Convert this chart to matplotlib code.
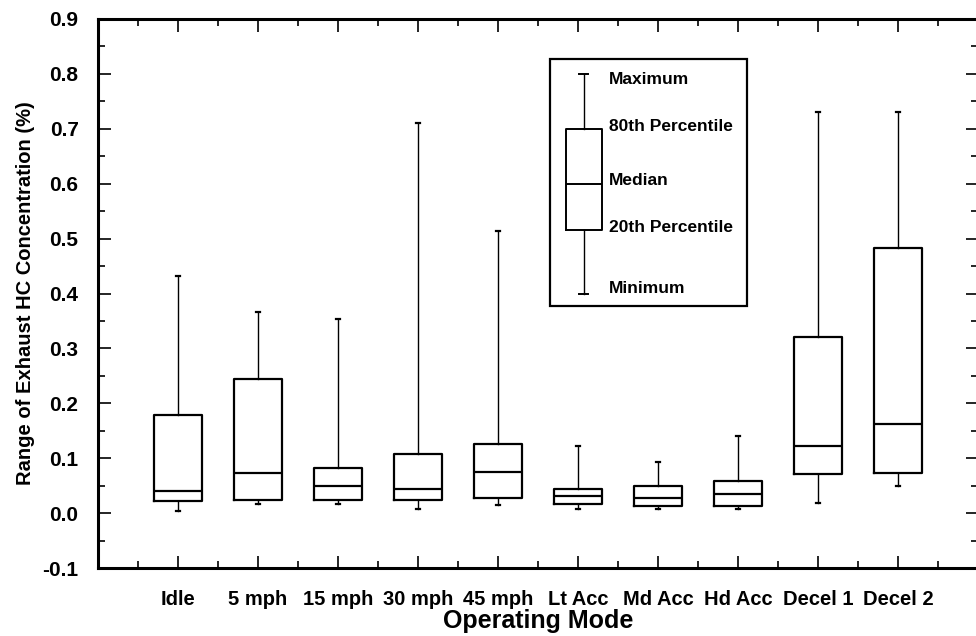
import matplotlib
matplotlib.use('Agg')
import matplotlib.pyplot as plt
from matplotlib.patches import Rectangle
from matplotlib.ticker import MultipleLocator

# operating modes and box statistics
modes = ['Idle', '5 mph', '15 mph', '30 mph', '45 mph',
         'Lt Acc', 'Md Acc', 'Hd Acc', 'Decel 1', 'Decel 2']
minimum = [0.003, 0.016, 0.017, 0.007, 0.014, 0.008, 0.008, 0.008, 0.019, 0.049]
p20 = [0.022, 0.024, 0.024, 0.023, 0.028, 0.016, 0.013, 0.013, 0.071, 0.073]
median = [0.041, 0.073, 0.049, 0.043, 0.074, 0.032, 0.028, 0.035, 0.123, 0.162]
p80 = [0.179, 0.245, 0.083, 0.107, 0.125, 0.043, 0.050, 0.058, 0.320, 0.483]
maximum = [0.432, 0.366, 0.353, 0.711, 0.514, 0.122, 0.093, 0.141, 0.731, 0.731]

# key box values
key_stats = [0.40, 0.515, 0.60, 0.70, 0.80]
key_labels = ['Minimum', '20th Percentile', 'Median', '80th Percentile', 'Maximum']

BOLD = {'family': ['Liberation Sans', 'DejaVu Sans'], 'weight': 'bold'}

fig = plt.figure(figsize=(9.76, 6.36), dpi=100)
ax = fig.add_axes([98 / 976, 68 / 636, 880 / 976, 549 / 636])

stats = []
for i in range(len(modes)):
    stats.append({'whislo': minimum[i], 'q1': p20[i], 'med': median[i],
                  'q3': p80[i], 'whishi': maximum[i], 'fliers': []})

pos = list(range(1, len(modes) + 1))
ax.bxp(stats, positions=pos, widths=0.6, capwidths=0.04, showfliers=False,
       boxprops=dict(color='black', linewidth=1.6),
       medianprops=dict(color='black', linewidth=1.6),
       whiskerprops=dict(color='black', linewidth=1.0),
       capprops=dict(color='black', linewidth=1.6))

# key
kx = 6.07
ax.add_patch(Rectangle((5.65, 0.378), 2.46, 0.45, fill=False,
                       edgecolor='black', linewidth=1.6, zorder=3))
ax.bxp([{'whislo': key_stats[0], 'q1': key_stats[1], 'med': key_stats[2],
         'q3': key_stats[3], 'whishi': key_stats[4], 'fliers': []}],
       positions=[kx], widths=0.45, capwidths=0.12, showfliers=False,
       manage_ticks=False,
       boxprops=dict(color='black', linewidth=1.4),
       medianprops=dict(color='black', linewidth=1.4),
       whiskerprops=dict(color='black', linewidth=1.0),
       capprops=dict(color='black', linewidth=1.4))
key_y = [0.41, 0.52, 0.605, 0.705, 0.79]
for y, lab in zip(key_y, key_labels):
    ax.text(kx + 0.32, y, lab, fontsize=12.5, va='center', ha='left', **BOLD)

ax.set_xlim(0, 11)
ax.set_ylim(-0.1, 0.9)
ax.set_xticks(pos)
ax.set_xticklabels(modes)
ax.xaxis.set_minor_locator(MultipleLocator(0.5))
ax.yaxis.set_minor_locator(MultipleLocator(0.05))
ax.set_yticks([round(-0.1 + 0.1 * k, 1) for k in range(11)])
ax.set_yticklabels(['%.1f' % (-0.1 + 0.1 * k) for k in range(11)])

ax.tick_params(which='both', direction='in', top=True, right=True, width=1.2)
ax.tick_params(which='major', length=9)
ax.tick_params(which='minor', length=5)
ax.tick_params(axis='y', pad=14)
ax.tick_params(axis='x', pad=16)
for t in ax.get_yticklabels():
    t.set_fontsize(15)
    t.set_fontfamily(BOLD['family'])
    t.set_fontweight('bold')
for t in ax.get_xticklabels():
    t.set_fontsize(14.5)
    t.set_fontfamily(BOLD['family'])
    t.set_fontweight('bold')

for s in ax.spines.values():
    s.set_linewidth(2.2)

ax.set_ylabel('Range of Exhaust HC Concentration (%)', fontsize=14.5,
              labelpad=5, **BOLD)
ax.set_xlabel('Operating Mode', fontsize=18, labelpad=0, **BOLD)

fig.savefig('out.png', dpi=100)
